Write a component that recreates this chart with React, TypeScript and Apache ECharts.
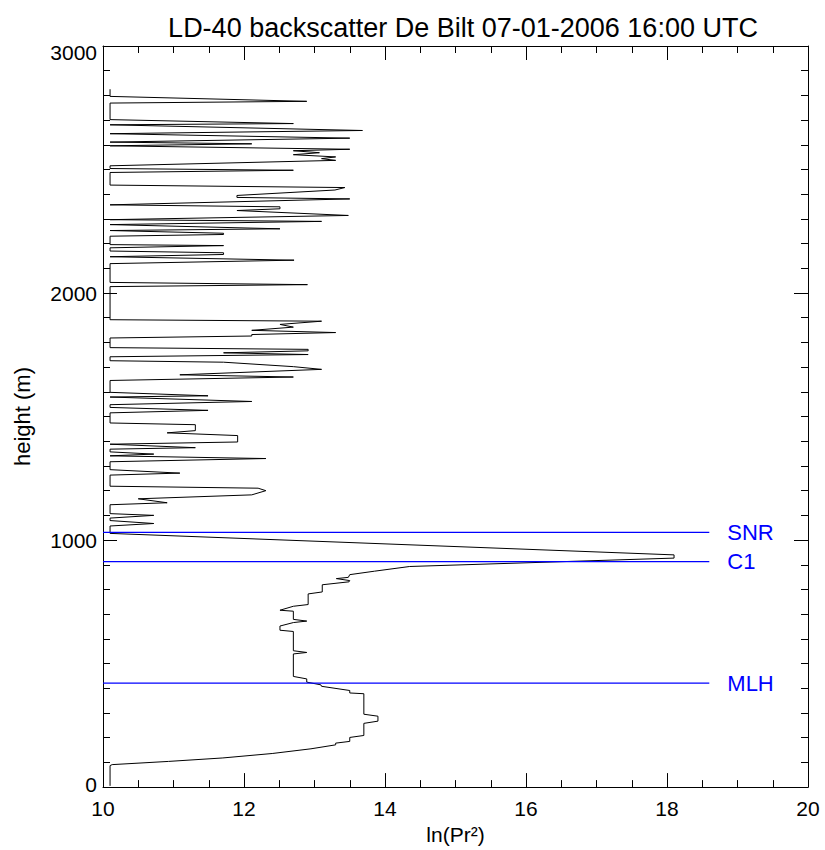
import React, { useEffect, useRef } from "react";
import * as echarts from "echarts";

// Profile traced from top to bottom: height (m) and ln(Pr^2)
const heights = [
  2825, 2796, 2776, 2769, 2702, 2686, 2681, 2658, 2645, 2627,
  2611, 2604, 2596, 2582, 2576, 2568, 2560, 2551, 2544, 2537,
  2515, 2504, 2497, 2488, 2437, 2427, 2417, 2395, 2387, 2381,
  2357, 2349, 2341, 2334, 2314, 2297, 2290, 2277, 2260, 2253,
  2242, 2237, 2230, 2196, 2192, 2183, 2170, 2163, 2156, 2147,
  2133, 2119, 2043, 2034, 2026, 1892, 1886, 1873, 1862, 1849,
  1840, 1832, 1826, 1818, 1779, 1772, 1766, 1758, 1751, 1742,
  1726, 1720, 1702, 1691, 1669, 1660, 1646, 1598, 1584, 1579,
  1561, 1548, 1537, 1525, 1515, 1474, 1467, 1443, 1434, 1423,
  1397, 1388, 1374, 1368, 1357, 1348, 1341, 1330, 1317, 1285,
  1271, 1263, 1218, 1210, 1200, 1183, 1167, 1151, 1143, 1107,
  1100, 1089, 1079, 1067, 1057, 1027, 940, 927, 893, 874,
  860, 849, 844, 836, 831, 819, 790, 782, 739, 732,
  716, 712, 679, 672, 666, 652, 635, 630, 552, 545,
  539, 448, 438, 425, 414, 408, 391, 381, 378, 295,
  287, 267, 258, 209, 201, 185, 178, 171, 155, 136,
  118, 104, 91, 87, 5,
];
const lnPr2 = [
  10.1, 10.1, 12.89, 10.1, 10.1, 12.7, 10.1, 13.68, 10.1, 13.5,
  10.1, 12.11, 10.1, 13.5, 12.7, 13.07, 12.7, 13.3, 13.1, 13.3,
  10.1, 10.1, 12.7, 10.1, 10.1, 13.43, 13.29, 11.9, 11.9, 13.5,
  10.1, 12.51, 12.51, 11.9, 13.48, 10.1, 13.1, 10.1, 12.51, 10.1,
  11.71, 11.71, 10.1, 10.1, 11.71, 10.1, 10.1, 11.71, 11.71, 10.1,
  12.71, 10.1, 10.1, 12.9, 10.1, 10.1, 13.1, 12.51, 12.7, 12.11,
  13.3, 12.11, 12.11, 10.1, 10.1, 12.91, 12.91, 11.71, 12.91, 10.1,
  10.1, 11.71, 12.7, 13.1, 11.09, 12.7, 10.1, 10.1, 11.49, 10.1,
  12.11, 10.1, 10.1, 11.49, 10.1, 10.1, 11.31, 11.31, 10.91, 11.91,
  11.91, 10.1, 11.31, 10.1, 10.1, 10.72, 10.1, 12.31, 10.1, 10.1,
  11.09, 10.1, 10.1, 12.2, 12.31, 12.11, 10.5, 10.91, 10.1, 10.1,
  10.72, 10.1, 10.1, 10.72, 10.1, 10.1, 18.1, 18.1, 14.35, 13.85,
  13.5, 13.48, 13.31, 13.5, 13.49, 13.11, 13.11, 12.91, 12.91, 12.7,
  12.51, 12.7, 12.7, 12.89, 12.7, 12.51, 12.51, 12.7, 12.7, 12.89,
  12.7, 12.7, 12.89, 12.89, 13.09, 13.1, 13.5, 13.5, 13.7, 13.7,
  13.9, 13.9, 13.7, 13.7, 13.5, 13.5, 13.3, 13.3, 12.95, 12.4,
  11.7, 10.93, 10.13, 10.1, 10.1,
];

// Derived layer heights
const markerNames = ["SNR", "C1", "MLH"];
const markerHeights = [1031, 913, 421];
const markerStart = 10;
const markerEnd = 18.6;

const FONT = "Liberation Sans, Arial, Helvetica, sans-serif";
const BLUE = "#0000ff";

export default function App() {
  const ref = useRef<HTMLDivElement>(null);
  useEffect(() => {
    document.body.style.margin = "0";
    if (!ref.current) return;
    const chart = echarts.init(ref.current, undefined, { renderer: "svg" });
    const profile = heights.map((h, i) => [lnPr2[i], h]);

    const commonTick = {
      axisLine: { show: true, onZero: false, lineStyle: { color: "#000", width: 1 } },
      axisTick: { show: true, inside: true, length: 14, lineStyle: { color: "#000", width: 1 } },
      splitLine: { show: false },
    };

    const markerSeries = markerNames.map((name, i) => ({
      type: "line",
      name,
      color: BLUE,
      data: [
        [markerStart, markerHeights[i]],
        [markerEnd, markerHeights[i]],
      ],
      showSymbol: false,
      symbol: "none",
      lineStyle: { color: BLUE, width: 1.2 },
      endLabel: {
        show: true,
        formatter: name,
        color: BLUE,
        fontSize: 22,
        fontFamily: FONT,
        distance: 18,
      },
      silent: true,
      z: 5,
    }));

    chart.setOption({
      animation: false,
      title: {
        text: "LD-40 backscatter De Bilt 07-01-2006 16:00 UTC",
        left: 458,
        textAlign: "center",
        top: 9,
        textStyle: { fontSize: 27, fontWeight: "normal", color: "#000", fontFamily: FONT },
      },
      grid: { left: 103, right: 17, top: 46, bottom: 56, containLabel: false },
      xAxis: [
        {
          type: "value",
          position: "bottom",
          min: 10,
          max: 20,
          interval: 2,
          ...commonTick,
          minorTick: { show: true, splitNumber: 4, length: 7, lineStyle: { color: "#000" } },
          axisLabel: { fontSize: 21, color: "#000", fontFamily: FONT, margin: 11 },
          name: "ln(Pr²)",
          nameLocation: "middle",
          nameGap: 31,
          nameTextStyle: { fontSize: 21, color: "#000", fontFamily: FONT },
        },
        {
          type: "value",
          position: "top",
          min: 10,
          max: 20,
          interval: 2,
          ...commonTick,
          minorTick: { show: true, splitNumber: 4, length: 7, lineStyle: { color: "#000" } },
          axisLabel: { show: false },
        },
      ],
      yAxis: [
        {
          type: "value",
          position: "left",
          min: 0,
          max: 3000,
          interval: 1000,
          ...commonTick,
          minorTick: { show: true, splitNumber: 10, length: 7, lineStyle: { color: "#000" } },
          axisLabel: {
            fontSize: 21,
            color: "#000",
            fontFamily: FONT,
            margin: 6,
            formatter: (v: number) =>
              v === 3000 ? "{top|3000}" : v === 0 ? "{bot|0}" : String(v),
            rich: {
              top: { fontSize: 21, fontFamily: FONT, color: "#000", padding: [12, 0, 0, 0] },
              bot: { fontSize: 21, fontFamily: FONT, color: "#000", padding: [0, 0, 6, 0] },
            },
          },
          name: "height (m)",
          nameLocation: "middle",
          nameGap: 70,
          nameTextStyle: { fontSize: 22, color: "#000", fontFamily: FONT },
        },
        {
          type: "value",
          position: "right",
          min: 0,
          max: 3000,
          interval: 1000,
          ...commonTick,
          minorTick: { show: true, splitNumber: 10, length: 7, lineStyle: { color: "#000" } },
          axisLabel: { show: false },
        },
      ],
      series: [
        {
          type: "line",
          name: "profile",
          data: profile,
          showSymbol: false,
          symbol: "none",
          lineStyle: { color: "#000", width: 1 },
          silent: true,
          z: 2,
        },
        ...markerSeries,
      ],
    });
    return () => chart.dispose();
  }, []);
  return <div ref={ref} style={{ width: 825, height: 850 }} />;
}
